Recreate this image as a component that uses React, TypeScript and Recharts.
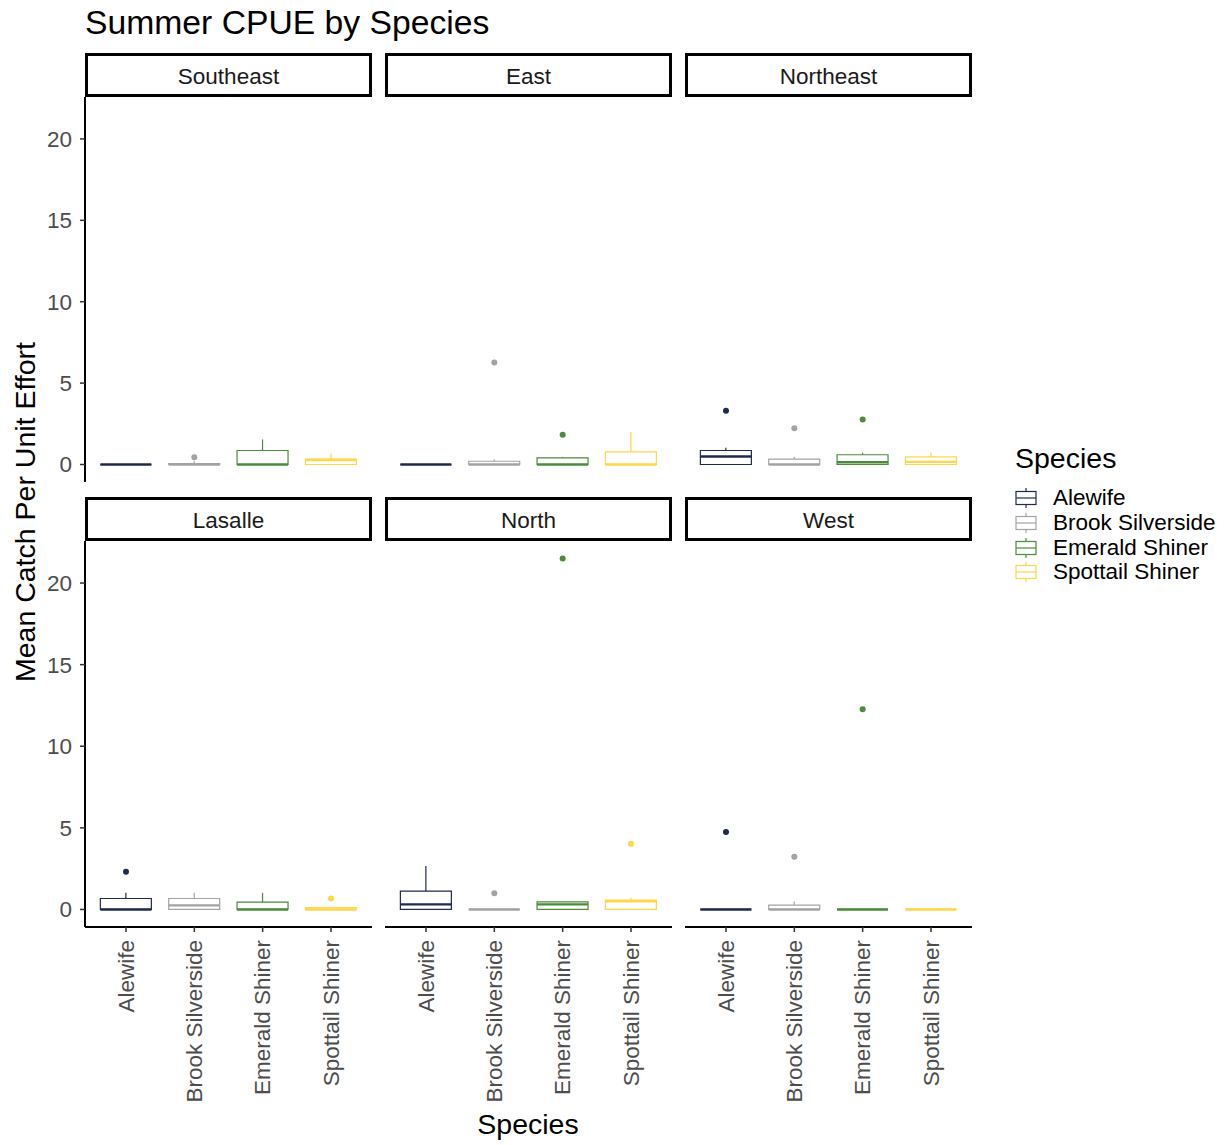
import React from "react";
import { ComposedChart, Bar, Scatter, XAxis, YAxis } from "recharts";

const facets = ["Southeast", "East", "Northeast", "Lasalle", "North", "West"];
const species = ["Alewife", "Brook Silverside", "Emerald Shiner", "Spottail Shiner"];
const speciesColors = ["#1f2b4d", "#a3a3a3", "#4b8b3b", "#ffd54a"];
const yTicks = [0, 5, 10, 15, 20];
const yDomain: [number, number] = [-1.075, 22.575];

// box stats per species: [lower whisker, Q1, median, Q3, upper whisker]
const southeastBoxes = [
  [0, 0, 0, 0, 0],
  [0, 0, 0, 0.05, 0.2],
  [0, 0, 0, 0.86, 1.54],
  [0, 0, 0.28, 0.33, 0.68],
];
const eastBoxes = [
  [0, 0, 0, 0, 0],
  [0, 0, 0, 0.2, 0.3],
  [0, 0, 0, 0.41, 0.47],
  [0, 0, 0, 0.78, 1.99],
];
const northeastBoxes = [
  [0, 0, 0.49, 0.86, 1.03],
  [0, 0, 0, 0.33, 0.47],
  [0, 0, 0.14, 0.6, 0.72],
  [0, 0, 0.16, 0.47, 0.74],
];
const lasalleBoxes = [
  [0, 0, 0, 0.67, 1.02],
  [0, 0, 0.25, 0.67, 1.02],
  [0, 0, 0, 0.45, 1.02],
  [0, 0, 0, 0.12, 0.12],
];
const northBoxes = [
  [0, 0, 0.31, 1.12, 2.66],
  [0, 0, 0, 0, 0],
  [0, 0, 0.31, 0.47, 0.47],
  [0, 0, 0.5, 0.58, 0.72],
];
const westBoxes = [
  [0, 0, 0, 0, 0],
  [0, 0, 0, 0.27, 0.49],
  [0, 0, 0, 0, 0],
  [0, 0, 0, 0, 0],
];

// outlying points per species (null = none)
const southeastOutliers = [null, 0.45, null, null];
const eastOutliers = [null, 6.26, 1.83, null];
const northeastOutliers = [3.3, 2.23, 2.77, null];
const lasalleOutliers = [2.31, null, null, 0.67];
const northOutliers = [null, 1.0, 21.5, 4.03];
const westOutliers = [4.74, 3.23, 12.27, null];

const facetBoxes = [southeastBoxes, eastBoxes, northeastBoxes, lasalleBoxes, northBoxes, westBoxes];
const facetOutliers = [
  southeastOutliers,
  eastOutliers,
  northeastOutliers,
  lasalleOutliers,
  northOutliers,
  westOutliers,
];

const FONT = '"Liberation Sans", Arial, sans-serif';
const PANEL_LEFT = [85, 385, 685];
const PANEL_W = 287;
const STRIP_TOP = [53, 497];
const STRIP_H = 44;
const PLOT_TOP = [97, 541];
const PLOT_H = [385, 386];
const Y_AXIS_W = 85;
const X_AXIS_H = 190;
const TICK_FONT = 22.5;

function BoxShape(props: any) {
  const { x, y, width, height, payload } = props;
  if (!payload || x == null || y == null) return <g />;
  const { lo, q1, med, q3, hi, color } = payload;
  const top = Math.min(y, y + height);
  const span = Math.abs(height);
  const py = (v: number) => (hi > lo ? top + ((hi - v) / (hi - lo)) * span : top);
  const cx = x + width / 2;
  return (
    <g>
      <line x1={cx} x2={cx} y1={py(hi)} y2={py(q3)} stroke={color} strokeWidth={1.2} />
      <line x1={cx} x2={cx} y1={py(q1)} y2={py(lo)} stroke={color} strokeWidth={1.2} />
      <path
        d={`M${x},${py(q3)}H${x + width}V${py(q1)}H${x}Z`}
        fill="#ffffff"
        stroke={color}
        strokeWidth={1.2}
      />
      <line x1={x} x2={x + width} y1={py(med)} y2={py(med)} stroke={color} strokeWidth={2.4} />
    </g>
  );
}

function OutlierDot(props: any) {
  const { cx, cy, payload } = props;
  if (!payload || payload.outlier == null || !Number.isFinite(cx) || !Number.isFinite(cy)) return <g />;
  return <circle cx={cx} cy={cy} r={3} fill={payload.color} />;
}

function SpeciesTick(props: any) {
  const { x, y, payload } = props;
  return (
    <text
      x={x}
      y={y}
      transform={`rotate(-90 ${x} ${y})`}
      textAnchor="end"
      dominantBaseline="central"
      fontSize={TICK_FONT}
      fontFamily={FONT}
      fill="#4d4d4d"
    >
      {payload.value}
    </text>
  );
}

function FacetPanel({ index }: { index: number }) {
  const row = Math.floor(index / 3);
  const col = index % 3;
  const data = species.map((name, i) => {
    const [lo, q1, med, q3, hi] = facetBoxes[index][i];
    return { species: name, lo, q1, med, q3, hi, outlier: facetOutliers[index][i], color: speciesColors[i] };
  });

  const isLeft = col === 0;
  const isBottom = row === 1;
  const chartLeft = isLeft ? PANEL_LEFT[0] - Y_AXIS_W : PANEL_LEFT[col];
  const chartW = isLeft ? PANEL_W + Y_AXIS_W : PANEL_W;
  const chartH = PLOT_H[row] + (isBottom ? X_AXIS_H : 0);
  const pad = (PANEL_W - PANEL_W / 4.2 * 4) / 2;

  return (
    <>
      <div
        style={{
          position: "absolute",
          left: PANEL_LEFT[col],
          top: STRIP_TOP[row],
          width: PANEL_W,
          height: STRIP_H,
          boxSizing: "border-box",
          border: "3px solid #000",
          paddingTop: 3,
          display: "flex",
          alignItems: "center",
          justifyContent: "center",
          fontSize: TICK_FONT,
          color: "#1a1a1a",
        }}
      >
        {facets[index]}
      </div>
      <div style={{ position: "absolute", left: chartLeft, top: PLOT_TOP[row] }}>
        <ComposedChart
          width={chartW}
          height={chartH}
          data={data}
          margin={{ top: 0, right: 0, bottom: 0, left: 0 }}
          barCategoryGap="12.5%"
        >
          <XAxis
            dataKey="species"
            type="category"
            hide={!isBottom}
            height={X_AXIS_H}
            padding={{ left: pad, right: pad }}
            interval={0}
            axisLine={{ stroke: "#000", strokeWidth: 2 }}
            tickLine={{ stroke: "#333", strokeWidth: 1.5 }}
            tickSize={5}
            tickMargin={8}
            tick={<SpeciesTick />}
          />
          <YAxis
            type="number"
            domain={yDomain}
            allowDataOverflow
            ticks={yTicks}
            hide={!isLeft}
            width={Y_AXIS_W}
            axisLine={{ stroke: "#000", strokeWidth: 2 }}
            tickLine={{ stroke: "#333", strokeWidth: 1.5 }}
            tickSize={5}
            tickMargin={8}
            tick={{ fontSize: TICK_FONT, fill: "#4d4d4d", fontFamily: FONT }}
          />
          <Bar
            dataKey={(d: any) => [d.lo, d.hi]}
            shape={<BoxShape />}
            isAnimationActive={false}
          />
          <Scatter dataKey="outlier" shape={<OutlierDot />} isAnimationActive={false} />
        </ComposedChart>
      </div>
    </>
  );
}

function LegendKey({ color }: { color: string }) {
  return (
    <svg width={22} height={20} style={{ display: "block" }}>
      <line x1={11} x2={11} y1={0} y2={20} stroke={color} strokeWidth={1.2} />
      <rect x={1} y={3.5} width={20} height={13} fill="#fff" stroke={color} strokeWidth={1.2} />
      <line x1={1} x2={21} y1={10} y2={10} stroke={color} strokeWidth={1.2} />
    </svg>
  );
}

export default function App() {
  return (
    <div
      style={{
        position: "relative",
        width: 1225,
        height: 1145,
        background: "#fff",
        fontFamily: FONT,
        overflow: "hidden",
      }}
    >
      <style>{`body{margin:0}`}</style>
      <div style={{ position: "absolute", left: 85, top: 2, fontSize: 33.7, lineHeight: "40px", color: "#000" }}>
        Summer CPUE by Species
      </div>

      {facets.map((_, i) => (
        <FacetPanel key={i} index={i} />
      ))}

      <div
        style={{
          position: "absolute",
          left: 25,
          top: 512,
          transform: "translate(-50%, -50%) rotate(-90deg)",
          whiteSpace: "nowrap",
          fontSize: 28.5,
          lineHeight: "34px",
          color: "#000",
        }}
      >
        Mean Catch Per Unit Effort
      </div>
      <div
        style={{
          position: "absolute",
          left: 528,
          top: 1124,
          transform: "translate(-50%, -50%)",
          whiteSpace: "nowrap",
          fontSize: 28.5,
          lineHeight: "34px",
          color: "#000",
        }}
      >
        Species
      </div>

      <div style={{ position: "absolute", left: 1015, top: 441 }}>
        <div style={{ fontSize: 28.5, lineHeight: "34px", color: "#000" }}>Species</div>
        <div style={{ marginTop: 11 }}>
          {species.map((name, i) => (
            <div key={name} style={{ display: "flex", alignItems: "center", height: 24.7 }}>
              <LegendKey color={speciesColors[i]} />
              <span style={{ marginLeft: 16, fontSize: TICK_FONT, color: "#000", lineHeight: "24px" }}>{name}</span>
            </div>
          ))}
        </div>
      </div>
    </div>
  );
}
